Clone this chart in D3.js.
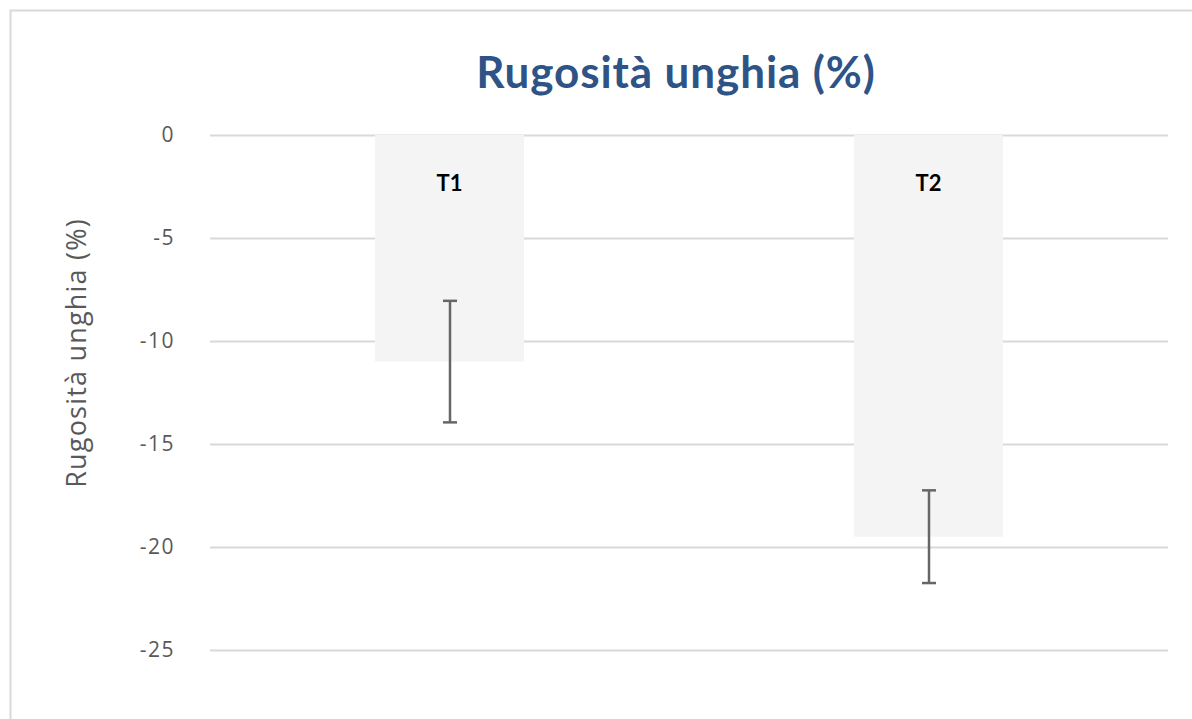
<!DOCTYPE html>
<html><head><meta charset="utf-8">
<script src="https://cdn.jsdelivr.net/npm/d3@7"></script>
<style>body{margin:0;background:#fff;}svg{display:block;}</style>
</head><body>
<svg id="chart" width="1192" height="719"></svg>
<script>
const categories = ["T1", "T2"];
const values = [-11.0, -19.5];
const errors = [2.95, 2.25];
const yTicks = [0, -5, -10, -15, -20, -25];
const title = "Rugosità unghia (%)";
const yTitle = "Rugosità unghia (%)";

const svg = d3.select("#chart");
const plotL = 210, plotR = 1168, plotT = 135, plotB = 650;

// outer frame
svg.append("path").attr("d", "M10.5,719 V10.5 H1192").attr("fill", "none")
  .attr("stroke", "#d9d9d9").attr("stroke-width", 2);

const y = d3.scaleLinear().domain([0, -25]).range([plotT, plotB]);
const x = d3.scaleBand().domain(categories).range([plotL, plotR]).paddingInner(0.689).paddingOuter(0.3445);

// gridlines
svg.append("g").selectAll("line").data(yTicks).join("line")
  .attr("x1", plotL).attr("x2", plotR)
  .attr("y1", d => Math.round(y(d)) + 0.5).attr("y2", d => Math.round(y(d)) + 0.5)
  .attr("stroke", "#d9d9d9").attr("stroke-width", 2);

// y axis labels
const yAxis = d3.axisLeft(y).tickValues(yTicks).tickSize(0).tickPadding(0).tickFormat(d3.format("d"));
const ga = svg.append("g").attr("transform", `translate(175,0)`).call(yAxis);
ga.select(".domain").remove();
ga.selectAll("text").attr("fill", "#595959").attr("font-family", "'Open Sans', sans-serif")
  .attr("font-size", 21).attr("letter-spacing", 1.5).attr("dy", "0.32em").text(d => d === 0 ? "0" : "-" + Math.abs(d));

// bars
svg.append("g").selectAll("rect").data(categories).join("rect")
  .attr("x", d => x(d)).attr("width", x.bandwidth())
  .attr("y", (d, i) => y(Math.max(0, values[i])))
  .attr("height", (d, i) => Math.abs(y(values[i]) - y(0)))
  .attr("fill", "#f4f4f4");

// error bars
const eg = svg.append("g").attr("stroke", "#666").attr("stroke-width", 2.5);
categories.forEach((c, i) => {
  const cx = Math.round(x(c) + x.bandwidth() / 2);
  const y1 = y(values[i] + errors[i]), y2 = y(values[i] - errors[i]);
  eg.append("line").attr("x1", cx).attr("x2", cx).attr("y1", y1).attr("y2", y2);
  eg.append("line").attr("x1", cx - 7).attr("x2", cx + 7).attr("y1", y1).attr("y2", y1);
  eg.append("line").attr("x1", cx - 7).attr("x2", cx + 7).attr("y1", y2).attr("y2", y2);
});

// category labels
svg.append("g").selectAll("text").data(categories).join("text")
  .attr("x", d => x(d) + x.bandwidth() / 2).attr("y", 191)
  .attr("text-anchor", "middle").attr("font-family", "Lato, 'Open Sans', sans-serif")
  .attr("font-weight", "bold").attr("font-size", 22).attr("fill", "#000").text(d => d);

// title
svg.append("text").attr("x", 676).attr("y", 88).attr("text-anchor", "middle")
  .attr("font-family", "Lato, 'Open Sans', sans-serif").attr("font-weight", "bold")
  .attr("font-size", 44).attr("letter-spacing", 0.9).attr("fill", "#2e5386").text(title);

// y title
svg.append("text").attr("transform", "translate(86,353) rotate(-90)").attr("text-anchor", "middle")
  .attr("font-family", "'Open Sans', sans-serif").attr("font-size", 27).attr("letter-spacing", 1.2)
  .attr("fill", "#595959").text(yTitle);
</script>
</body></html>
